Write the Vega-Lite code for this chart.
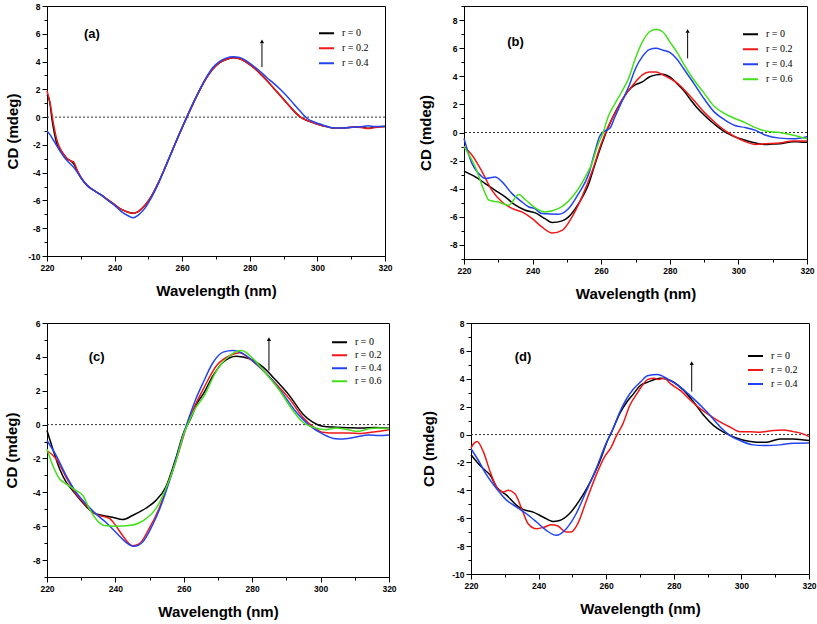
{
"$schema": "https://vega.github.io/schema/vega-lite/v6.json",
"padding": {"left": 3, "top": 1, "right": 1, "bottom": 0},
"background": "white",
"config": {
 "view": {"stroke": "black", "strokeWidth": 1},
 "axis": {"grid": false, "domainColor": "black", "domainWidth": 1, "tickColor": "black", "tickWidth": 1, "tickSize": 5, "labelFont": "Liberation Sans", "labelFontWeight": "bold", "labelFontSize": 8.5, "labelColor": "black", "labelPadding": 2, "labelOverlap": false, "labelFlush": false, "titleFont": "Liberation Sans", "titleFontWeight": "bold", "titleFontSize": 15, "titleColor": "black"},
 "legend": {"labelFont": "Liberation Serif", "labelFontSize": 10, "labelColor": "black", "symbolType": "stroke", "symbolStrokeWidth": 2, "symbolSize": 225, "rowPadding": 0, "labelOffset": 7, "padding": 0}
},
"resolve": {"scale": {"x": "independent", "y": "independent", "color": "independent"}, "axis": {"x": "independent", "y": "independent"}, "legend": {"color": "independent"}},
"spacing": 16,
"vconcat": [
 {"hconcat": [
  {"width": 338, "height": 250,
   "resolve": {"axis": {"x": "independent", "y": "independent"}},
   "layer": [
    {"data": {"values": [{}]}, "mark": {"type": "rule", "strokeDash": [2, 2], "color": "#333333", "strokeWidth": 1}, "encoding": {"y": {"datum": 0, "type": "quantitative", "axis": {"orient": "left", "values": [-9,-7,-5,-3,-1,1,3,5,7], "labels": false, "tickSize": 3, "domain": false, "title": null}}}},
    {"data": {"name": "a"}, "mark": {"type": "line", "interpolate": "monotone", "strokeWidth": 1.5},
     "encoding": {
      "x": {"field": "wl", "type": "quantitative", "scale": {"domain": [220, 320], "nice": false, "zero": false}, "axis": {"orient": "bottom", "title": "Wavelength (nm)", "values": [220,240,260,280,300,320], "titlePadding": 12}},
      "y": {"field": "cd", "type": "quantitative", "scale": {"domain": [-10, 8], "nice": false, "zero": false}, "axis": {"orient": "left", "title": "CD (mdeg)", "values": [-10,-8,-6,-4,-2,0,2,4,6,8], "labelExpr": "'' + datum.value", "titleX": -27}},
      "color": {"field": "r", "type": "nominal", "scale": {"domain": ["r = 0", "r = 0.2", "r = 0.4"], "range": ["#000000", "#f01818", "#2244f0"]}, "legend": {"title": null, "orient": "none", "legendX": 271, "legendY": 20, "clipHeight": 14.5}}
     }},
    {"data": {"values": [{}]}, "mark": {"type": "rule", "color": "black", "strokeWidth": 1}, "encoding": {"x": {"datum": 283.6, "type": "quantitative", "axis": {"orient": "bottom", "values": [230,250,270,290,310], "labels": false, "tickSize": 3, "domain": false, "title": null}}, "y": {"datum": 3.6, "type": "quantitative", "axis": null}, "y2": {"datum": 5.3}}},
    {"data": {"values": [{}]}, "mark": {"type": "point", "shape": "triangle-up", "filled": true, "color": "black", "size": 18, "opacity": 1}, "encoding": {"x": {"datum": 283.6, "type": "quantitative", "axis": null}, "y": {"datum": 5.45, "type": "quantitative", "axis": null}}},
    {"data": {"values": [{}]}, "mark": {"type": "text", "font": "Liberation Sans", "fontWeight": "bold", "fontSize": 13, "color": "black"}, "encoding": {"x": {"datum": 233.3, "type": "quantitative", "axis": null}, "y": {"datum": 6.0, "type": "quantitative", "axis": null}, "text": {"value": "(a)"}}}
   ]},
  {"width": 343, "height": 253,
   "resolve": {"axis": {"x": "independent", "y": "independent"}},
   "layer": [
    {"data": {"values": [{}]}, "mark": {"type": "rule", "strokeDash": [2, 2], "color": "#333333", "strokeWidth": 1}, "encoding": {"y": {"datum": 0, "type": "quantitative", "axis": {"orient": "left", "values": [-9,-7,-5,-3,-1,1,3,5,7,9], "labels": false, "tickSize": 3, "domain": false, "title": null}}}},
    {"data": {"name": "b"}, "mark": {"type": "line", "interpolate": "monotone", "strokeWidth": 1.5},
     "encoding": {
      "x": {"field": "wl", "type": "quantitative", "scale": {"domain": [220, 320], "nice": false, "zero": false}, "axis": {"orient": "bottom", "title": "Wavelength (nm)", "values": [220,240,260,280,300,320], "titlePadding": 12}},
      "y": {"field": "cd", "type": "quantitative", "scale": {"domain": [-9, 9], "nice": false, "zero": false}, "axis": {"orient": "left", "title": "CD (mdeg)", "values": [-8,-6,-4,-2,0,2,4,6,8], "labelExpr": "'' + datum.value", "titleX": -31}},
      "color": {"field": "r", "type": "nominal", "scale": {"domain": ["r = 0", "r = 0.2", "r = 0.4", "r = 0.6"], "range": ["#000000", "#f01818", "#2244f0", "#44e01c"]}, "legend": {"title": null, "orient": "none", "legendX": 278, "legendY": 21, "clipHeight": 14.3}}
     }},
    {"data": {"values": [{}]}, "mark": {"type": "rule", "color": "black", "strokeWidth": 1}, "encoding": {"x": {"datum": 285.2, "type": "quantitative", "axis": {"orient": "bottom", "values": [230,250,270,290,310], "labels": false, "tickSize": 3, "domain": false, "title": null}}, "y": {"datum": 5.27, "type": "quantitative", "axis": null}, "y2": {"datum": 7.1}}},
    {"data": {"values": [{}]}, "mark": {"type": "point", "shape": "triangle-up", "filled": true, "color": "black", "size": 18, "opacity": 1}, "encoding": {"x": {"datum": 285.2, "type": "quantitative", "axis": null}, "y": {"datum": 7.22, "type": "quantitative", "axis": null}}},
    {"data": {"values": [{}]}, "mark": {"type": "text", "font": "Liberation Sans", "fontWeight": "bold", "fontSize": 13, "color": "black"}, "encoding": {"x": {"datum": 235.0, "type": "quantitative", "axis": null}, "y": {"datum": 6.46, "type": "quantitative", "axis": null}, "text": {"value": "(b)"}}}
   ]}
 ], "spacing": 24,
 "resolve": {"scale": {"x": "independent", "y": "independent", "color": "independent"}, "axis": {"x": "independent", "y": "independent"}, "legend": {"color": "independent"}}},
 {"hconcat": [
  {"width": 342, "height": 254,
   "resolve": {"axis": {"x": "independent", "y": "independent"}},
   "layer": [
    {"data": {"values": [{}]}, "mark": {"type": "rule", "strokeDash": [2, 2], "color": "#333333", "strokeWidth": 1}, "encoding": {"y": {"datum": 0, "type": "quantitative", "axis": {"orient": "left", "values": [-9,-7,-5,-3,-1,1,3,5], "labels": false, "tickSize": 3, "domain": false, "title": null}}}},
    {"data": {"name": "c"}, "mark": {"type": "line", "interpolate": "monotone", "strokeWidth": 1.5},
     "encoding": {
      "x": {"field": "wl", "type": "quantitative", "scale": {"domain": [220, 320], "nice": false, "zero": false}, "axis": {"orient": "bottom", "title": "Wavelength (nm)", "values": [220,240,260,280,300,320], "titlePadding": 12}},
      "y": {"field": "cd", "type": "quantitative", "scale": {"domain": [-9, 6], "nice": false, "zero": false}, "axis": {"orient": "left", "title": "CD (mdeg)", "values": [-8,-6,-4,-2,0,2,4,6], "labelExpr": "'' + datum.value", "titleX": -28}},
      "color": {"field": "r", "type": "nominal", "scale": {"domain": ["r = 0", "r = 0.2", "r = 0.4", "r = 0.6"], "range": ["#000000", "#f01818", "#2244f0", "#44e01c"]}, "legend": {"title": null, "orient": "none", "legendX": 284, "legendY": 13, "clipHeight": 12.4}}
     }},
    {"data": {"values": [{}]}, "mark": {"type": "rule", "color": "black", "strokeWidth": 1}, "encoding": {"x": {"datum": 284.9, "type": "quantitative", "axis": {"orient": "bottom", "values": [230,250,270,290,310], "labels": false, "tickSize": 3, "domain": false, "title": null}}, "y": {"datum": 3.19, "type": "quantitative", "axis": null}, "y2": {"datum": 4.95}}},
    {"data": {"values": [{}]}, "mark": {"type": "point", "shape": "triangle-up", "filled": true, "color": "black", "size": 18, "opacity": 1}, "encoding": {"x": {"datum": 284.9, "type": "quantitative", "axis": null}, "y": {"datum": 5.05, "type": "quantitative", "axis": null}}},
    {"data": {"values": [{}]}, "mark": {"type": "text", "font": "Liberation Sans", "fontWeight": "bold", "fontSize": 13, "color": "black"}, "encoding": {"x": {"datum": 234.5, "type": "quantitative", "axis": null}, "y": {"datum": 3.98, "type": "quantitative", "axis": null}, "text": {"value": "(c)"}}}
   ]},
  {"width": 338, "height": 251,
   "resolve": {"axis": {"x": "independent", "y": "independent"}},
   "layer": [
    {"data": {"values": [{}]}, "mark": {"type": "rule", "strokeDash": [2, 2], "color": "#333333", "strokeWidth": 1}, "encoding": {"y": {"datum": 0, "type": "quantitative", "axis": {"orient": "left", "values": [-9,-7,-5,-3,-1,1,3,5,7], "labels": false, "tickSize": 3, "domain": false, "title": null}}}},
    {"data": {"name": "d"}, "mark": {"type": "line", "interpolate": "monotone", "strokeWidth": 1.5},
     "encoding": {
      "x": {"field": "wl", "type": "quantitative", "scale": {"domain": [220, 320], "nice": false, "zero": false}, "axis": {"orient": "bottom", "title": "Wavelength (nm)", "values": [220,240,260,280,300,320], "titlePadding": 12}},
      "y": {"field": "cd", "type": "quantitative", "scale": {"domain": [-10, 8], "nice": false, "zero": false}, "axis": {"orient": "left", "title": "CD (mdeg)", "values": [-10,-8,-6,-4,-2,0,2,4,6,8], "labelExpr": "'' + datum.value", "titleX": -35}},
      "color": {"field": "r", "type": "nominal", "scale": {"domain": ["r = 0", "r = 0.2", "r = 0.4"], "range": ["#000000", "#f01818", "#2244f0"]}, "legend": {"title": null, "orient": "none", "legendX": 276, "legendY": 26, "clipHeight": 14}}
     }},
    {"data": {"values": [{}]}, "mark": {"type": "rule", "color": "black", "strokeWidth": 1}, "encoding": {"x": {"datum": 285.3, "type": "quantitative", "axis": {"orient": "bottom", "values": [230,250,270,290,310], "labels": false, "tickSize": 3, "domain": false, "title": null}}, "y": {"datum": 3.08, "type": "quantitative", "axis": null}, "y2": {"datum": 5.0}}},
    {"data": {"values": [{}]}, "mark": {"type": "point", "shape": "triangle-up", "filled": true, "color": "black", "size": 18, "opacity": 1}, "encoding": {"x": {"datum": 285.3, "type": "quantitative", "axis": null}, "y": {"datum": 5.12, "type": "quantitative", "axis": null}}},
    {"data": {"values": [{}]}, "mark": {"type": "text", "font": "Liberation Sans", "fontWeight": "bold", "fontSize": 13, "color": "black"}, "encoding": {"x": {"datum": 235.4, "type": "quantitative", "axis": null}, "y": {"datum": 5.54, "type": "quantitative", "axis": null}, "text": {"value": "(d)"}}}
   ]}
 ], "spacing": 23,
 "resolve": {"scale": {"x": "independent", "y": "independent", "color": "independent"}, "axis": {"x": "independent", "y": "independent"}, "legend": {"color": "independent"}}}
],
"datasets": {
"a": [
{"r":"r = 0","wl":220,"cd":1.6},{"r":"r = 0","wl":220.8,"cd":1.1},{"r":"r = 0","wl":221.5,"cd":-0.2},{"r":"r = 0","wl":222.3,"cd":-1.3},{"r":"r = 0","wl":223,"cd":-2.0},{"r":"r = 0","wl":224,"cd":-2.4},{"r":"r = 0","wl":225,"cd":-2.7},{"r":"r = 0","wl":226,"cd":-3.0},{"r":"r = 0","wl":227,"cd":-3.15},{"r":"r = 0","wl":228,"cd":-3.4},{"r":"r = 0","wl":229,"cd":-3.9},{"r":"r = 0","wl":230,"cd":-4.35},{"r":"r = 0","wl":232,"cd":-4.95},{"r":"r = 0","wl":234,"cd":-5.3},{"r":"r = 0","wl":236,"cd":-5.6},{"r":"r = 0","wl":238,"cd":-5.95},{"r":"r = 0","wl":240,"cd":-6.3},{"r":"r = 0","wl":242,"cd":-6.65},{"r":"r = 0","wl":244,"cd":-6.85},{"r":"r = 0","wl":245.5,"cd":-6.92},{"r":"r = 0","wl":247,"cd":-6.8},{"r":"r = 0","wl":249,"cd":-6.35},{"r":"r = 0","wl":251,"cd":-5.65},{"r":"r = 0","wl":253,"cd":-4.7},{"r":"r = 0","wl":255,"cd":-3.6},{"r":"r = 0","wl":257,"cd":-2.45},{"r":"r = 0","wl":259,"cd":-1.3},{"r":"r = 0","wl":261,"cd":-0.2},{"r":"r = 0","wl":263,"cd":0.85},{"r":"r = 0","wl":265,"cd":1.85},{"r":"r = 0","wl":267,"cd":2.75},{"r":"r = 0","wl":269,"cd":3.45},{"r":"r = 0","wl":271,"cd":3.9},{"r":"r = 0","wl":273,"cd":4.15},{"r":"r = 0","wl":275,"cd":4.27},{"r":"r = 0","wl":277,"cd":4.2},{"r":"r = 0","wl":279,"cd":3.95},{"r":"r = 0","wl":281,"cd":3.6},{"r":"r = 0","wl":283,"cd":3.15},{"r":"r = 0","wl":285,"cd":2.65},{"r":"r = 0","wl":287,"cd":2.1},{"r":"r = 0","wl":289,"cd":1.55},{"r":"r = 0","wl":291,"cd":1.0},{"r":"r = 0","wl":293,"cd":0.45},{"r":"r = 0","wl":295,"cd":0.0},{"r":"r = 0","wl":297,"cd":-0.25},{"r":"r = 0","wl":299,"cd":-0.42},{"r":"r = 0","wl":301,"cd":-0.58},{"r":"r = 0","wl":303,"cd":-0.7},{"r":"r = 0","wl":305,"cd":-0.8},{"r":"r = 0","wl":308,"cd":-0.78},{"r":"r = 0","wl":311,"cd":-0.72},{"r":"r = 0","wl":313,"cd":-0.72},{"r":"r = 0","wl":315,"cd":-0.8},{"r":"r = 0","wl":317,"cd":-0.72},{"r":"r = 0","wl":320,"cd":-0.67},
{"r":"r = 0.2","wl":220,"cd":1.9},{"r":"r = 0.2","wl":221,"cd":0.9},{"r":"r = 0.2","wl":222,"cd":-0.6},{"r":"r = 0.2","wl":223,"cd":-1.7},{"r":"r = 0.2","wl":224,"cd":-2.3},{"r":"r = 0.2","wl":225,"cd":-2.7},{"r":"r = 0.2","wl":226,"cd":-3.0},{"r":"r = 0.2","wl":227,"cd":-3.15},{"r":"r = 0.2","wl":227.8,"cd":-3.2},{"r":"r = 0.2","wl":229,"cd":-3.85},{"r":"r = 0.2","wl":230,"cd":-4.3},{"r":"r = 0.2","wl":232,"cd":-4.95},{"r":"r = 0.2","wl":234,"cd":-5.3},{"r":"r = 0.2","wl":236,"cd":-5.6},{"r":"r = 0.2","wl":238,"cd":-5.95},{"r":"r = 0.2","wl":240,"cd":-6.3},{"r":"r = 0.2","wl":242,"cd":-6.65},{"r":"r = 0.2","wl":244,"cd":-6.85},{"r":"r = 0.2","wl":245.5,"cd":-6.92},{"r":"r = 0.2","wl":247,"cd":-6.8},{"r":"r = 0.2","wl":249,"cd":-6.35},{"r":"r = 0.2","wl":251,"cd":-5.65},{"r":"r = 0.2","wl":253,"cd":-4.7},{"r":"r = 0.2","wl":255,"cd":-3.6},{"r":"r = 0.2","wl":257,"cd":-2.45},{"r":"r = 0.2","wl":259,"cd":-1.3},{"r":"r = 0.2","wl":261,"cd":-0.2},{"r":"r = 0.2","wl":263,"cd":0.85},{"r":"r = 0.2","wl":265,"cd":1.85},{"r":"r = 0.2","wl":267,"cd":2.75},{"r":"r = 0.2","wl":269,"cd":3.45},{"r":"r = 0.2","wl":271,"cd":3.9},{"r":"r = 0.2","wl":273,"cd":4.15},{"r":"r = 0.2","wl":275,"cd":4.27},{"r":"r = 0.2","wl":277,"cd":4.2},{"r":"r = 0.2","wl":279,"cd":3.95},{"r":"r = 0.2","wl":281,"cd":3.6},{"r":"r = 0.2","wl":283,"cd":3.15},{"r":"r = 0.2","wl":285,"cd":2.65},{"r":"r = 0.2","wl":287,"cd":2.1},{"r":"r = 0.2","wl":289,"cd":1.55},{"r":"r = 0.2","wl":291,"cd":1.0},{"r":"r = 0.2","wl":293,"cd":0.45},{"r":"r = 0.2","wl":295,"cd":0.0},{"r":"r = 0.2","wl":297,"cd":-0.25},{"r":"r = 0.2","wl":299,"cd":-0.42},{"r":"r = 0.2","wl":301,"cd":-0.58},{"r":"r = 0.2","wl":303,"cd":-0.7},{"r":"r = 0.2","wl":305,"cd":-0.8},{"r":"r = 0.2","wl":308,"cd":-0.78},{"r":"r = 0.2","wl":311,"cd":-0.72},{"r":"r = 0.2","wl":313,"cd":-0.75},{"r":"r = 0.2","wl":315,"cd":-0.82},{"r":"r = 0.2","wl":317,"cd":-0.75},{"r":"r = 0.2","wl":320,"cd":-0.67},
{"r":"r = 0.4","wl":220,"cd":-1.0},{"r":"r = 0.4","wl":221,"cd":-1.3},{"r":"r = 0.4","wl":222,"cd":-1.7},{"r":"r = 0.4","wl":223,"cd":-2.1},{"r":"r = 0.4","wl":224,"cd":-2.5},{"r":"r = 0.4","wl":225,"cd":-2.85},{"r":"r = 0.4","wl":226,"cd":-3.15},{"r":"r = 0.4","wl":228,"cd":-3.65},{"r":"r = 0.4","wl":230,"cd":-4.35},{"r":"r = 0.4","wl":232,"cd":-4.95},{"r":"r = 0.4","wl":234,"cd":-5.3},{"r":"r = 0.4","wl":236,"cd":-5.6},{"r":"r = 0.4","wl":238,"cd":-6.0},{"r":"r = 0.4","wl":240,"cd":-6.35},{"r":"r = 0.4","wl":242,"cd":-6.8},{"r":"r = 0.4","wl":244,"cd":-7.1},{"r":"r = 0.4","wl":245.5,"cd":-7.25},{"r":"r = 0.4","wl":247,"cd":-7.05},{"r":"r = 0.4","wl":249,"cd":-6.55},{"r":"r = 0.4","wl":251,"cd":-5.75},{"r":"r = 0.4","wl":253,"cd":-4.75},{"r":"r = 0.4","wl":255,"cd":-3.6},{"r":"r = 0.4","wl":257,"cd":-2.45},{"r":"r = 0.4","wl":259,"cd":-1.3},{"r":"r = 0.4","wl":261,"cd":-0.2},{"r":"r = 0.4","wl":263,"cd":0.9},{"r":"r = 0.4","wl":265,"cd":1.9},{"r":"r = 0.4","wl":267,"cd":2.8},{"r":"r = 0.4","wl":269,"cd":3.55},{"r":"r = 0.4","wl":271,"cd":4.0},{"r":"r = 0.4","wl":273,"cd":4.25},{"r":"r = 0.4","wl":275,"cd":4.35},{"r":"r = 0.4","wl":277,"cd":4.3},{"r":"r = 0.4","wl":279,"cd":4.05},{"r":"r = 0.4","wl":281,"cd":3.7},{"r":"r = 0.4","wl":283,"cd":3.3},{"r":"r = 0.4","wl":285,"cd":2.85},{"r":"r = 0.4","wl":287,"cd":2.45},{"r":"r = 0.4","wl":289,"cd":2.0},{"r":"r = 0.4","wl":291,"cd":1.5},{"r":"r = 0.4","wl":293,"cd":0.95},{"r":"r = 0.4","wl":295,"cd":0.4},{"r":"r = 0.4","wl":297,"cd":-0.1},{"r":"r = 0.4","wl":299,"cd":-0.35},{"r":"r = 0.4","wl":301,"cd":-0.52},{"r":"r = 0.4","wl":303,"cd":-0.68},{"r":"r = 0.4","wl":305,"cd":-0.78},{"r":"r = 0.4","wl":308,"cd":-0.78},{"r":"r = 0.4","wl":311,"cd":-0.72},{"r":"r = 0.4","wl":313,"cd":-0.7},{"r":"r = 0.4","wl":315,"cd":-0.62},{"r":"r = 0.4","wl":317,"cd":-0.68},{"r":"r = 0.4","wl":320,"cd":-0.65}
],
"b": [
{"r":"r = 0","wl":220,"cd":-2.75},{"r":"r = 0","wl":223.3,"cd":-3.16},{"r":"r = 0","wl":226.2,"cd":-3.63},{"r":"r = 0","wl":229.1,"cd":-4.11},{"r":"r = 0","wl":232,"cd":-4.58},{"r":"r = 0","wl":235,"cd":-5.17},{"r":"r = 0","wl":237.9,"cd":-5.53},{"r":"r = 0","wl":240.8,"cd":-5.72},{"r":"r = 0","wl":243.6,"cd":-6.13},{"r":"r = 0","wl":245.7,"cd":-6.41},{"r":"r = 0","wl":248.6,"cd":-6.29},{"r":"r = 0","wl":250.5,"cd":-6.0},{"r":"r = 0","wl":253.4,"cd":-5.06},{"r":"r = 0","wl":256.4,"cd":-3.63},{"r":"r = 0","wl":258,"cd":-2.4},{"r":"r = 0","wl":260,"cd":-0.95},{"r":"r = 0","wl":262,"cd":0.35},{"r":"r = 0","wl":264,"cd":1.4},{"r":"r = 0","wl":266,"cd":2.25},{"r":"r = 0","wl":268,"cd":3.0},{"r":"r = 0","wl":270,"cd":3.4},{"r":"r = 0","wl":272,"cd":3.6},{"r":"r = 0","wl":274,"cd":3.95},{"r":"r = 0","wl":276,"cd":4.1},{"r":"r = 0","wl":278,"cd":4.15},{"r":"r = 0","wl":280,"cd":3.95},{"r":"r = 0","wl":282,"cd":3.5},{"r":"r = 0","wl":284,"cd":3.0},{"r":"r = 0","wl":286,"cd":2.35},{"r":"r = 0","wl":288,"cd":1.75},{"r":"r = 0","wl":290,"cd":1.25},{"r":"r = 0","wl":292,"cd":0.8},{"r":"r = 0","wl":294,"cd":0.4},{"r":"r = 0","wl":296,"cd":0.05},{"r":"r = 0","wl":298,"cd":-0.2},{"r":"r = 0","wl":300,"cd":-0.4},{"r":"r = 0","wl":302,"cd":-0.55},{"r":"r = 0","wl":304,"cd":-0.7},{"r":"r = 0","wl":306,"cd":-0.8},{"r":"r = 0","wl":308,"cd":-0.85},{"r":"r = 0","wl":310,"cd":-0.82},{"r":"r = 0","wl":312,"cd":-0.8},{"r":"r = 0","wl":316,"cd":-0.65},{"r":"r = 0","wl":318,"cd":-0.68},{"r":"r = 0","wl":320,"cd":-0.7},
{"r":"r = 0.2","wl":220,"cd":-1.0},{"r":"r = 0.2","wl":222.3,"cd":-1.6},{"r":"r = 0.2","wl":225.3,"cd":-2.8},{"r":"r = 0.2","wl":228.1,"cd":-4.1},{"r":"r = 0.2","wl":231.1,"cd":-4.94},{"r":"r = 0.2","wl":234,"cd":-5.4},{"r":"r = 0.2","wl":236.9,"cd":-5.65},{"r":"r = 0.2","wl":239.9,"cd":-6.13},{"r":"r = 0.2","wl":242.7,"cd":-6.72},{"r":"r = 0.2","wl":245.7,"cd":-7.15},{"r":"r = 0.2","wl":248.6,"cd":-6.96},{"r":"r = 0.2","wl":251.5,"cd":-6.0},{"r":"r = 0.2","wl":254.4,"cd":-4.58},{"r":"r = 0.2","wl":257.3,"cd":-2.8},{"r":"r = 0.2","wl":260,"cd":-0.8},{"r":"r = 0.2","wl":262,"cd":0.4},{"r":"r = 0.2","wl":264,"cd":1.35},{"r":"r = 0.2","wl":266,"cd":2.3},{"r":"r = 0.2","wl":268,"cd":3.0},{"r":"r = 0.2","wl":270,"cd":3.6},{"r":"r = 0.2","wl":272,"cd":4.1},{"r":"r = 0.2","wl":274,"cd":4.3},{"r":"r = 0.2","wl":276,"cd":4.3},{"r":"r = 0.2","wl":278,"cd":4.1},{"r":"r = 0.2","wl":280,"cd":3.85},{"r":"r = 0.2","wl":282,"cd":3.55},{"r":"r = 0.2","wl":284,"cd":3.1},{"r":"r = 0.2","wl":287,"cd":2.3},{"r":"r = 0.2","wl":290,"cd":1.45},{"r":"r = 0.2","wl":293,"cd":0.75},{"r":"r = 0.2","wl":296,"cd":0.15},{"r":"r = 0.2","wl":299,"cd":-0.3},{"r":"r = 0.2","wl":302,"cd":-0.65},{"r":"r = 0.2","wl":305,"cd":-0.85},{"r":"r = 0.2","wl":308,"cd":-0.8},{"r":"r = 0.2","wl":312,"cd":-0.75},{"r":"r = 0.2","wl":316,"cd":-0.6},{"r":"r = 0.2","wl":320,"cd":-0.6},
{"r":"r = 0.4","wl":220,"cd":-0.43},{"r":"r = 0.4","wl":222.3,"cd":-2.2},{"r":"r = 0.4","wl":224.3,"cd":-2.92},{"r":"r = 0.4","wl":226.2,"cd":-3.28},{"r":"r = 0.4","wl":229.1,"cd":-3.16},{"r":"r = 0.4","wl":231.1,"cd":-3.51},{"r":"r = 0.4","wl":234,"cd":-4.35},{"r":"r = 0.4","wl":236.9,"cd":-4.94},{"r":"r = 0.4","wl":238.9,"cd":-5.3},{"r":"r = 0.4","wl":240.5,"cd":-5.4},{"r":"r = 0.4","wl":242.7,"cd":-5.77},{"r":"r = 0.4","wl":247.6,"cd":-5.82},{"r":"r = 0.4","wl":250.5,"cd":-5.41},{"r":"r = 0.4","wl":253.4,"cd":-4.35},{"r":"r = 0.4","wl":256.4,"cd":-2.92},{"r":"r = 0.4","wl":258,"cd":-1.5},{"r":"r = 0.4","wl":259.5,"cd":-0.3},{"r":"r = 0.4","wl":261,"cd":0.1},{"r":"r = 0.4","wl":262.5,"cd":0.3},{"r":"r = 0.4","wl":264,"cd":1.1},{"r":"r = 0.4","wl":266,"cd":2.2},{"r":"r = 0.4","wl":268,"cd":3.25},{"r":"r = 0.4","wl":270,"cd":4.55},{"r":"r = 0.4","wl":272,"cd":5.4},{"r":"r = 0.4","wl":274,"cd":5.9},{"r":"r = 0.4","wl":276,"cd":6.0},{"r":"r = 0.4","wl":278,"cd":5.85},{"r":"r = 0.4","wl":280,"cd":5.7},{"r":"r = 0.4","wl":282,"cd":5.25},{"r":"r = 0.4","wl":284,"cd":4.55},{"r":"r = 0.4","wl":287,"cd":3.5},{"r":"r = 0.4","wl":290,"cd":2.4},{"r":"r = 0.4","wl":293,"cd":1.45},{"r":"r = 0.4","wl":296,"cd":0.9},{"r":"r = 0.4","wl":299,"cd":0.5},{"r":"r = 0.4","wl":302,"cd":0.35},{"r":"r = 0.4","wl":305,"cd":0.15},{"r":"r = 0.4","wl":308,"cd":-0.2},{"r":"r = 0.4","wl":312,"cd":-0.4},{"r":"r = 0.4","wl":316,"cd":-0.45},{"r":"r = 0.4","wl":320,"cd":-0.3},
{"r":"r = 0.6","wl":220,"cd":-1.0},{"r":"r = 0.6","wl":223.3,"cd":-2.45},{"r":"r = 0.6","wl":226.2,"cd":-4.35},{"r":"r = 0.6","wl":227.2,"cd":-4.8},{"r":"r = 0.6","wl":230,"cd":-4.95},{"r":"r = 0.6","wl":233,"cd":-5.17},{"r":"r = 0.6","wl":236,"cd":-4.41},{"r":"r = 0.6","wl":238,"cd":-4.8},{"r":"r = 0.6","wl":241,"cd":-5.4},{"r":"r = 0.6","wl":243.6,"cd":-5.65},{"r":"r = 0.6","wl":247.6,"cd":-5.4},{"r":"r = 0.6","wl":251.5,"cd":-4.6},{"r":"r = 0.6","wl":255.4,"cd":-3.15},{"r":"r = 0.6","wl":257.3,"cd":-2.2},{"r":"r = 0.6","wl":259,"cd":-0.9},{"r":"r = 0.6","wl":260.5,"cd":-0.05},{"r":"r = 0.6","wl":262,"cd":1.1},{"r":"r = 0.6","wl":264,"cd":2.05},{"r":"r = 0.6","wl":266,"cd":2.9},{"r":"r = 0.6","wl":268,"cd":3.85},{"r":"r = 0.6","wl":270,"cd":5.3},{"r":"r = 0.6","wl":272,"cd":6.45},{"r":"r = 0.6","wl":274,"cd":7.15},{"r":"r = 0.6","wl":276,"cd":7.35},{"r":"r = 0.6","wl":278,"cd":7.15},{"r":"r = 0.6","wl":280,"cd":6.45},{"r":"r = 0.6","wl":282,"cd":5.75},{"r":"r = 0.6","wl":284,"cd":4.9},{"r":"r = 0.6","wl":287,"cd":3.75},{"r":"r = 0.6","wl":290,"cd":2.8},{"r":"r = 0.6","wl":293,"cd":1.85},{"r":"r = 0.6","wl":296,"cd":1.35},{"r":"r = 0.6","wl":299,"cd":1.0},{"r":"r = 0.6","wl":302,"cd":0.7},{"r":"r = 0.6","wl":305,"cd":0.35},{"r":"r = 0.6","wl":308,"cd":0.1},{"r":"r = 0.6","wl":312,"cd":0.0},{"r":"r = 0.6","wl":316,"cd":-0.2},{"r":"r = 0.6","wl":320,"cd":-0.45}
],
"c": [
{"r":"r = 0","wl":220,"cd":-0.35},{"r":"r = 0","wl":221.7,"cd":-1.44},{"r":"r = 0","wl":223.7,"cd":-2.62},{"r":"r = 0","wl":225.6,"cd":-3.4},{"r":"r = 0","wl":227.5,"cd":-3.9},{"r":"r = 0","wl":229.5,"cd":-4.39},{"r":"r = 0","wl":231.4,"cd":-4.82},{"r":"r = 0","wl":233.4,"cd":-5.18},{"r":"r = 0","wl":236.3,"cd":-5.37},{"r":"r = 0","wl":239.2,"cd":-5.47},{"r":"r = 0","wl":242.1,"cd":-5.61},{"r":"r = 0","wl":245,"cd":-5.37},{"r":"r = 0","wl":248.9,"cd":-4.94},{"r":"r = 0","wl":251.8,"cd":-4.49},{"r":"r = 0","wl":254.7,"cd":-3.7},{"r":"r = 0","wl":257.6,"cd":-2.03},{"r":"r = 0","wl":260,"cd":-0.45},{"r":"r = 0","wl":262,"cd":0.35},{"r":"r = 0","wl":264,"cd":1.3},{"r":"r = 0","wl":265.7,"cd":1.81},{"r":"r = 0","wl":268.6,"cd":2.9},{"r":"r = 0","wl":271.5,"cd":3.68},{"r":"r = 0","wl":275.4,"cd":4.04},{"r":"r = 0","wl":279.3,"cd":3.88},{"r":"r = 0","wl":283.2,"cd":3.39},{"r":"r = 0","wl":287,"cd":2.6},{"r":"r = 0","wl":290.9,"cd":1.71},{"r":"r = 0","wl":294.8,"cd":0.63},{"r":"r = 0","wl":297.7,"cd":0.14},{"r":"r = 0","wl":300.6,"cd":-0.1},{"r":"r = 0","wl":304.5,"cd":-0.15},{"r":"r = 0","wl":308,"cd":-0.18},{"r":"r = 0","wl":312,"cd":-0.2},{"r":"r = 0","wl":316,"cd":-0.17},{"r":"r = 0","wl":320,"cd":-0.22},
{"r":"r = 0.2","wl":220,"cd":-1.53},{"r":"r = 0.2","wl":222.7,"cd":-2.03},{"r":"r = 0.2","wl":225.6,"cd":-3.11},{"r":"r = 0.2","wl":228.5,"cd":-4.09},{"r":"r = 0.2","wl":231.4,"cd":-4.76},{"r":"r = 0.2","wl":233.4,"cd":-5.18},{"r":"r = 0.2","wl":235.3,"cd":-5.37},{"r":"r = 0.2","wl":238.2,"cd":-5.53},{"r":"r = 0.2","wl":240.1,"cd":-5.96},{"r":"r = 0.2","wl":242.1,"cd":-6.55},{"r":"r = 0.2","wl":245,"cd":-7.15},{"r":"r = 0.2","wl":246.9,"cd":-7.05},{"r":"r = 0.2","wl":249.8,"cd":-6.16},{"r":"r = 0.2","wl":252.7,"cd":-4.98},{"r":"r = 0.2","wl":255.6,"cd":-3.4},{"r":"r = 0.2","wl":258.5,"cd":-1.63},{"r":"r = 0.2","wl":261,"cd":0.0},{"r":"r = 0.2","wl":263,"cd":1.0},{"r":"r = 0.2","wl":265.7,"cd":2.1},{"r":"r = 0.2","wl":269.6,"cd":3.49},{"r":"r = 0.2","wl":273.5,"cd":4.08},{"r":"r = 0.2","wl":276.4,"cd":4.24},{"r":"r = 0.2","wl":279.3,"cd":3.88},{"r":"r = 0.2","wl":283.2,"cd":3.19},{"r":"r = 0.2","wl":287,"cd":2.4},{"r":"r = 0.2","wl":290.9,"cd":1.52},{"r":"r = 0.2","wl":294.8,"cd":0.44},{"r":"r = 0.2","wl":297.7,"cd":-0.1},{"r":"r = 0.2","wl":300.6,"cd":-0.45},{"r":"r = 0.2","wl":304.5,"cd":-0.5},{"r":"r = 0.2","wl":308,"cd":-0.5},{"r":"r = 0.2","wl":312,"cd":-0.52},{"r":"r = 0.2","wl":316,"cd":-0.42},{"r":"r = 0.2","wl":320,"cd":-0.3},
{"r":"r = 0.4","wl":220,"cd":-0.94},{"r":"r = 0.4","wl":222.7,"cd":-1.83},{"r":"r = 0.4","wl":225.6,"cd":-3.01},{"r":"r = 0.4","wl":228.5,"cd":-3.99},{"r":"r = 0.4","wl":231.4,"cd":-4.68},{"r":"r = 0.4","wl":234.3,"cd":-5.27},{"r":"r = 0.4","wl":237.2,"cd":-5.77},{"r":"r = 0.4","wl":240.1,"cd":-6.36},{"r":"r = 0.4","wl":243.1,"cd":-6.95},{"r":"r = 0.4","wl":245.5,"cd":-7.19},{"r":"r = 0.4","wl":247.9,"cd":-6.95},{"r":"r = 0.4","wl":250.8,"cd":-5.96},{"r":"r = 0.4","wl":253.7,"cd":-4.59},{"r":"r = 0.4","wl":256.6,"cd":-2.81},{"r":"r = 0.4","wl":259.5,"cd":-0.84},{"r":"r = 0.4","wl":261.5,"cd":0.4},{"r":"r = 0.4","wl":263.5,"cd":1.5},{"r":"r = 0.4","wl":265.7,"cd":2.5},{"r":"r = 0.4","wl":268.6,"cd":3.68},{"r":"r = 0.4","wl":271.5,"cd":4.28},{"r":"r = 0.4","wl":274.4,"cd":4.37},{"r":"r = 0.4","wl":277.4,"cd":4.18},{"r":"r = 0.4","wl":281.2,"cd":3.59},{"r":"r = 0.4","wl":285.1,"cd":2.8},{"r":"r = 0.4","wl":289,"cd":1.81},{"r":"r = 0.4","wl":292.9,"cd":0.73},{"r":"r = 0.4","wl":296.8,"cd":-0.06},{"r":"r = 0.4","wl":300.6,"cd":-0.55},{"r":"r = 0.4","wl":304.5,"cd":-0.84},{"r":"r = 0.4","wl":306,"cd":-0.85},{"r":"r = 0.4","wl":310,"cd":-0.75},{"r":"r = 0.4","wl":314,"cd":-0.62},{"r":"r = 0.4","wl":317,"cd":-0.65},{"r":"r = 0.4","wl":320,"cd":-0.62},
{"r":"r = 0.6","wl":220,"cd":-1.44},{"r":"r = 0.6","wl":221.7,"cd":-2.42},{"r":"r = 0.6","wl":223.7,"cd":-3.21},{"r":"r = 0.6","wl":225.6,"cd":-3.5},{"r":"r = 0.6","wl":228.5,"cd":-3.9},{"r":"r = 0.6","wl":230.5,"cd":-4.19},{"r":"r = 0.6","wl":232.4,"cd":-4.98},{"r":"r = 0.6","wl":234.3,"cd":-5.57},{"r":"r = 0.6","wl":236.7,"cd":-5.96},{"r":"r = 0.6","wl":240.1,"cd":-6.0},{"r":"r = 0.6","wl":244,"cd":-5.96},{"r":"r = 0.6","wl":246.9,"cd":-5.81},{"r":"r = 0.6","wl":248.9,"cd":-5.57},{"r":"r = 0.6","wl":251.8,"cd":-4.98},{"r":"r = 0.6","wl":254.7,"cd":-3.8},{"r":"r = 0.6","wl":257.6,"cd":-2.22},{"r":"r = 0.6","wl":260,"cd":-0.55},{"r":"r = 0.6","wl":262,"cd":0.4},{"r":"r = 0.6","wl":263.5,"cd":1.0},{"r":"r = 0.6","wl":265.7,"cd":1.62},{"r":"r = 0.6","wl":269.6,"cd":3.19},{"r":"r = 0.6","wl":273.5,"cd":4.08},{"r":"r = 0.6","wl":276.9,"cd":4.37},{"r":"r = 0.6","wl":280.3,"cd":3.88},{"r":"r = 0.6","wl":284.1,"cd":2.99},{"r":"r = 0.6","wl":288,"cd":2.01},{"r":"r = 0.6","wl":291.9,"cd":0.83},{"r":"r = 0.6","wl":294.8,"cd":0.14},{"r":"r = 0.6","wl":297.7,"cd":-0.15},{"r":"r = 0.6","wl":301.6,"cd":-0.3},{"r":"r = 0.6","wl":304.5,"cd":-0.2},{"r":"r = 0.6","wl":308,"cd":-0.3},{"r":"r = 0.6","wl":311,"cd":-0.4},{"r":"r = 0.6","wl":314,"cd":-0.25},{"r":"r = 0.6","wl":317,"cd":-0.2},{"r":"r = 0.6","wl":320,"cd":-0.25}
],
"d": [
{"r":"r = 0","wl":220,"cd":-1.45},{"r":"r = 0","wl":221.8,"cd":-1.98},{"r":"r = 0","wl":223.7,"cd":-2.46},{"r":"r = 0","wl":225.7,"cd":-2.93},{"r":"r = 0","wl":227.6,"cd":-3.77},{"r":"r = 0","wl":230.6,"cd":-4.36},{"r":"r = 0","wl":233.5,"cd":-5.08},{"r":"r = 0","wl":235.4,"cd":-5.37},{"r":"r = 0","wl":238.4,"cd":-5.56},{"r":"r = 0","wl":241.3,"cd":-5.91},{"r":"r = 0","wl":244.2,"cd":-6.23},{"r":"r = 0","wl":246.2,"cd":-6.16},{"r":"r = 0","wl":249.1,"cd":-5.68},{"r":"r = 0","wl":252.1,"cd":-4.72},{"r":"r = 0","wl":255,"cd":-3.53},{"r":"r = 0","wl":258,"cd":-1.98},{"r":"r = 0","wl":260.4,"cd":-0.43},{"r":"r = 0","wl":262,"cd":0.4},{"r":"r = 0","wl":264,"cd":1.5},{"r":"r = 0","wl":266,"cd":2.3},{"r":"r = 0","wl":268,"cd":2.9},{"r":"r = 0","wl":270,"cd":3.5},{"r":"r = 0","wl":272.2,"cd":3.75},{"r":"r = 0","wl":276.1,"cd":4.04},{"r":"r = 0","wl":280,"cd":3.75},{"r":"r = 0","wl":283,"cd":3.15},{"r":"r = 0","wl":285.9,"cd":2.32},{"r":"r = 0","wl":288.9,"cd":1.36},{"r":"r = 0","wl":291.8,"cd":0.64},{"r":"r = 0","wl":294.7,"cd":0.17},{"r":"r = 0","wl":298.7,"cd":-0.26},{"r":"r = 0","wl":302.6,"cd":-0.5},{"r":"r = 0","wl":304.5,"cd":-0.55},{"r":"r = 0","wl":307.5,"cd":-0.55},{"r":"r = 0","wl":311.4,"cd":-0.31},{"r":"r = 0","wl":315.3,"cd":-0.31},{"r":"r = 0","wl":320,"cd":-0.43},
{"r":"r = 0.2","wl":220,"cd":-0.95},{"r":"r = 0.2","wl":221,"cd":-0.6},{"r":"r = 0.2","wl":221.8,"cd":-0.5},{"r":"r = 0.2","wl":223.7,"cd":-1.26},{"r":"r = 0.2","wl":225.7,"cd":-2.69},{"r":"r = 0.2","wl":227.6,"cd":-3.77},{"r":"r = 0.2","wl":229.6,"cd":-4.12},{"r":"r = 0.2","wl":231,"cd":-4.0},{"r":"r = 0.2","wl":233,"cd":-4.24},{"r":"r = 0.2","wl":235,"cd":-5.32},{"r":"r = 0.2","wl":236.9,"cd":-6.39},{"r":"r = 0.2","wl":239.4,"cd":-6.75},{"r":"r = 0.2","wl":241.8,"cd":-6.63},{"r":"r = 0.2","wl":243.8,"cd":-6.47},{"r":"r = 0.2","wl":245.7,"cd":-6.56},{"r":"r = 0.2","wl":248.2,"cd":-6.99},{"r":"r = 0.2","wl":249.6,"cd":-6.99},{"r":"r = 0.2","wl":251.6,"cd":-6.39},{"r":"r = 0.2","wl":254,"cd":-4.84},{"r":"r = 0.2","wl":257,"cd":-2.93},{"r":"r = 0.2","wl":259.5,"cd":-1.6},{"r":"r = 0.2","wl":261.5,"cd":-0.9},{"r":"r = 0.2","wl":263,"cd":-0.1},{"r":"r = 0.2","wl":265,"cd":0.8},{"r":"r = 0.2","wl":267,"cd":2.1},{"r":"r = 0.2","wl":269,"cd":2.9},{"r":"r = 0.2","wl":270.3,"cd":3.39},{"r":"r = 0.2","wl":272.2,"cd":3.94},{"r":"r = 0.2","wl":274.2,"cd":4.04},{"r":"r = 0.2","wl":275.5,"cd":3.95},{"r":"r = 0.2","wl":277.1,"cd":4.04},{"r":"r = 0.2","wl":279.1,"cd":3.63},{"r":"r = 0.2","wl":282,"cd":3.15},{"r":"r = 0.2","wl":285,"cd":2.44},{"r":"r = 0.2","wl":287.9,"cd":1.84},{"r":"r = 0.2","wl":290.8,"cd":1.36},{"r":"r = 0.2","wl":293.8,"cd":0.89},{"r":"r = 0.2","wl":296.7,"cd":0.53},{"r":"r = 0.2","wl":299.6,"cd":0.21},{"r":"r = 0.2","wl":302.6,"cd":0.21},{"r":"r = 0.2","wl":305.5,"cd":0.17},{"r":"r = 0.2","wl":309.4,"cd":0.29},{"r":"r = 0.2","wl":312.3,"cd":0.33},{"r":"r = 0.2","wl":315.3,"cd":0.21},{"r":"r = 0.2","wl":318.2,"cd":0.05},{"r":"r = 0.2","wl":320,"cd":-0.15},
{"r":"r = 0.4","wl":220,"cd":-1.02},{"r":"r = 0.4","wl":222.2,"cd":-1.86},{"r":"r = 0.4","wl":224.7,"cd":-2.93},{"r":"r = 0.4","wl":227.6,"cd":-3.89},{"r":"r = 0.4","wl":230.6,"cd":-4.72},{"r":"r = 0.4","wl":233.5,"cd":-5.2},{"r":"r = 0.4","wl":236.4,"cd":-5.68},{"r":"r = 0.4","wl":239.4,"cd":-6.27},{"r":"r = 0.4","wl":242.3,"cd":-6.87},{"r":"r = 0.4","wl":245.2,"cd":-7.23},{"r":"r = 0.4","wl":248.2,"cd":-6.75},{"r":"r = 0.4","wl":251.1,"cd":-5.68},{"r":"r = 0.4","wl":254,"cd":-4.12},{"r":"r = 0.4","wl":257,"cd":-2.46},{"r":"r = 0.4","wl":259.9,"cd":-0.67},{"r":"r = 0.4","wl":262,"cd":0.4},{"r":"r = 0.4","wl":264,"cd":1.6},{"r":"r = 0.4","wl":266,"cd":2.55},{"r":"r = 0.4","wl":268,"cd":3.25},{"r":"r = 0.4","wl":270.3,"cd":3.8},{"r":"r = 0.4","wl":272.2,"cd":4.22},{"r":"r = 0.4","wl":275.2,"cd":4.3},{"r":"r = 0.4","wl":278.1,"cd":3.99},{"r":"r = 0.4","wl":282,"cd":3.39},{"r":"r = 0.4","wl":285.9,"cd":2.56},{"r":"r = 0.4","wl":289.9,"cd":1.6},{"r":"r = 0.4","wl":293.8,"cd":0.53},{"r":"r = 0.4","wl":296.7,"cd":-0.07},{"r":"r = 0.4","wl":299.6,"cd":-0.43},{"r":"r = 0.4","wl":303.5,"cd":-0.74},{"r":"r = 0.4","wl":307.5,"cd":-0.79},{"r":"r = 0.4","wl":311.4,"cd":-0.74},{"r":"r = 0.4","wl":315.3,"cd":-0.62},{"r":"r = 0.4","wl":320,"cd":-0.6}
]
}
}
